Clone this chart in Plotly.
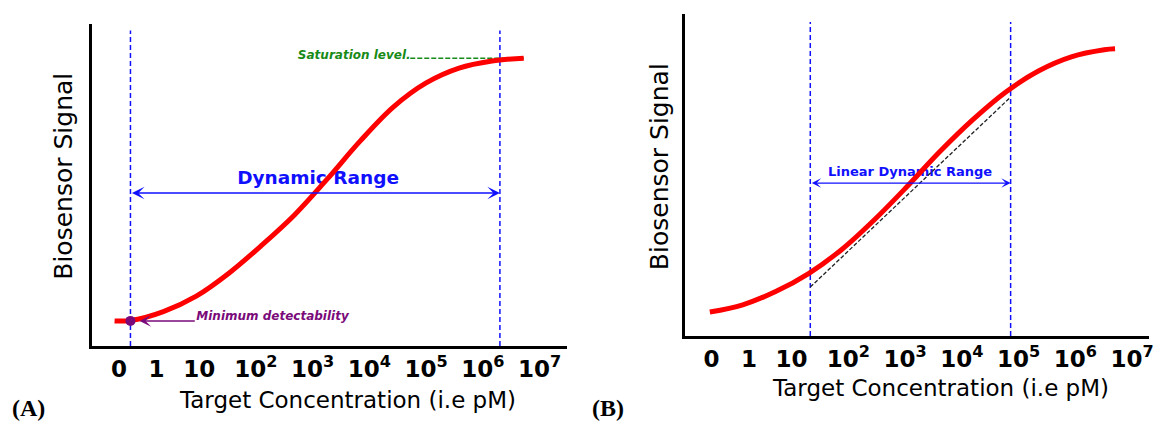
import plotly.graph_objects as go

# ---------------- data ----------------
tick_labels = ["0", "1", "10", "10<sup>2</sup>", "10<sup>3</sup>", "10<sup>4</sup>",
               "10<sup>5</sup>", "10<sup>6</sup>", "10<sup>7</sup>"]
tick_pos = [-0.41, 0.25, 1, 2, 3, 4, 5, 6, 7]

# Panel A: concentration position (decade units) vs biosensor signal (%)
a_conc = [-0.49, -0.21, 0.37, 0.95, 1.53, 2.11, 2.68, 3.26, 3.84, 4.42, 5.0, 5.58, 6.16, 6.72]
a_signal = [7.8, 7.9, 10.7, 15.5, 22.7, 31.4, 40.7, 51.9, 63.7, 74.2, 81.7, 86.3, 88.5, 89.4]
a_lod_conc = -0.21
a_lod_signal = 7.8
a_sat_conc = 6.3
a_sat_signal = 89.4
a_sat_line_conc = [4.72, 6.72]

# Panel B
b_conc = [-0.44, 0.14, 0.72, 1.30, 1.88, 2.46, 3.04, 3.61, 4.19, 4.77, 5.35, 5.93, 6.51, 6.70]
b_signal = [7.45, 9.7, 13.8, 19.4, 26.8, 36.1, 46.5, 57.2, 67.1, 75.7, 82.3, 86.7, 88.9, 89.2]
b_lin_conc = [1.33, 4.86]
b_fit_signal = [15.2, 74.2]

W, H = 1154, 423
BLUE = "#1010ff"
RED = "#ff0000"
GREEN = "#178a17"
PURPLE = "#7a0a7a"
FONT = "DejaVu Sans"

fig = go.Figure()

# ---- Panel A ----
for xv in [a_lod_conc, a_sat_conc]:
    fig.add_trace(go.Scatter(x=[xv, xv], y=[0, 98], mode="lines",
                             line=dict(color=BLUE, width=1.5, dash="5px,3px"),
                             xaxis="x", yaxis="y", hoverinfo="skip"))
fig.add_trace(go.Scatter(x=[3.096], y=[51.6], mode="text", text=["Dynamic Range"],
                         textfont=dict(family=FONT, size=18.5, color=BLUE, weight="bold"),
                         xaxis="x", yaxis="y"))
fig.add_trace(go.Scatter(x=a_sat_line_conc, y=[a_sat_signal, a_sat_signal], mode="lines",
                         line=dict(color=GREEN, width=1.5, dash="5px,2px"),
                         xaxis="x", yaxis="y"))
fig.add_trace(go.Scatter(x=a_conc, y=a_signal, mode="lines",
                         line=dict(color=RED, width=5, shape="spline", smoothing=1),
                         xaxis="x", yaxis="y"))
fig.add_trace(go.Scatter(x=[a_lod_conc], y=[a_lod_signal], mode="markers",
                         marker=dict(color=PURPLE, size=10),
                         xaxis="x", yaxis="y"))
fig.add_trace(go.Scatter(x=[2.74], y=[90.1], mode="text", text=["Saturation level."],
                         textposition="middle right",
                         textfont=dict(family=FONT, size=12, color=GREEN, weight="bold", style="italic"),
                         xaxis="x", yaxis="y"))
fig.add_trace(go.Scatter(x=[0.95], y=[9.0], mode="text", text=["Minimum detectability"],
                         textposition="middle right",
                         textfont=dict(family=FONT, size=12, color=PURPLE, weight="bold", style="italic"),
                         xaxis="x", yaxis="y"))

# ---- Panel B ----
for xv in b_lin_conc:
    fig.add_trace(go.Scatter(x=[xv, xv], y=[0, 97.5], mode="lines",
                             line=dict(color=BLUE, width=1.5, dash="5px,3px"),
                             xaxis="x2", yaxis="y2", hoverinfo="skip"))
fig.add_trace(go.Scatter(x=[3.088], y=[50.6], mode="text", text=["Linear Dynamic Range"],
                         textfont=dict(family=FONT, size=13, color=BLUE, weight="bold"),
                         xaxis="x2", yaxis="y2"))
fig.add_trace(go.Scatter(x=b_conc, y=b_signal, mode="lines",
                         line=dict(color=RED, width=5, shape="spline", smoothing=1),
                         xaxis="x2", yaxis="y2"))
fig.add_trace(go.Scatter(x=b_lin_conc, y=b_fit_signal, mode="lines",
                         line=dict(color="#222222", width=1.3, dash="4px,2px"),
                         xaxis="x2", yaxis="y2"))

annotations = [
    # double arrows
    dict(x=a_sat_conc, y=47.5, ax=a_lod_conc, ay=47.5, xref="x", yref="y", axref="x", ayref="y",
         text="", showarrow=True, arrowside="end+start", arrowhead=3, startarrowhead=3,
         arrowsize=1.4, startarrowsize=1.4, arrowwidth=1.5, arrowcolor=BLUE, standoff=0, startstandoff=0),
    dict(x=b_lin_conc[1], y=47.5, ax=b_lin_conc[0], ay=47.5, xref="x2", yref="y2", axref="x2", ayref="y2",
         text="", showarrow=True, arrowside="end+start", arrowhead=3, startarrowhead=3,
         arrowsize=1.2, startarrowsize=1.2, arrowwidth=1.3, arrowcolor=BLUE, standoff=0, startstandoff=0),
    # minimum detectability arrow
    dict(x=-0.05, y=a_lod_signal, ax=0.95, ay=a_lod_signal, xref="x", yref="y", axref="x", ayref="y",
         text="", showarrow=True, arrowhead=3, arrowsize=1.3, arrowwidth=1.5, arrowcolor=PURPLE, standoff=0),
    # axis titles
    dict(x=349 / W, y=1 - 400 / H, xref="paper", yref="paper", text="Target Concentration (i.e pM)",
         showarrow=False, font=dict(family=FONT, size=23, color="black"), xanchor="center", yanchor="middle"),
    dict(x=945 / W, y=1 - 388 / H, xref="paper", yref="paper", text="Target Concentration (i.e pM)",
         showarrow=False, font=dict(family=FONT, size=23, color="black"), xanchor="center", yanchor="middle"),
    dict(x=64 / W, y=1 - 176 / H, xref="paper", yref="paper", text="Biosensor Signal", textangle=-90,
         showarrow=False, font=dict(family=FONT, size=25, color="black"), xanchor="center", yanchor="middle"),
    dict(x=662 / W, y=1 - 167 / H, xref="paper", yref="paper", text="Biosensor Signal", textangle=-90,
         showarrow=False, font=dict(family=FONT, size=25, color="black"), xanchor="center", yanchor="middle"),
    dict(x=29 / W, y=1 - 408 / H, xref="paper", yref="paper", text="<b>(A)</b>",
         showarrow=False, font=dict(family="Liberation Serif", size=24, color="black"), xanchor="center", yanchor="middle"),
    dict(x=611 / W, y=1 - 408 / H, xref="paper", yref="paper", text="<b>(B)</b>",
         showarrow=False, font=dict(family="Liberation Serif", size=24, color="black"), xanchor="center", yanchor="middle"),
]

xcommon = dict(showline=True, linecolor="black", linewidth=3, showgrid=False, zeroline=False,
               ticks="", tickmode="array", tickvals=tick_pos, ticktext=tick_labels,
               tickfont=dict(family=FONT, size=23, color="black", weight="bold"),
               ticklabelstandoff=0, ticklabeloverflow="allow", fixedrange=True)
ycommon = dict(showline=True, linecolor="black", linewidth=3, showgrid=False, zeroline=False,
               showticklabels=False, ticks="", range=[0, 100], fixedrange=True)

fig.update_layout(
    width=W, height=H, margin=dict(l=0, r=0, t=0, b=0),
    paper_bgcolor="white", plot_bgcolor="white", showlegend=False,
    xaxis=dict(domain=[92 / W, 569 / W], range=[-0.8947, 7.4737], anchor="y", **xcommon),
    yaxis=dict(domain=[1 - 346 / H, 1 - 24 / H], anchor="x", **ycommon),
    xaxis2=dict(domain=[688 / W, 1.0], range=[-0.8772, 7.2982], anchor="y2", **xcommon),
    yaxis2=dict(domain=[1 - 336 / H, 1 - 14 / H], anchor="x2", **ycommon),
    annotations=annotations,
)

fig.write_html("out.html")
